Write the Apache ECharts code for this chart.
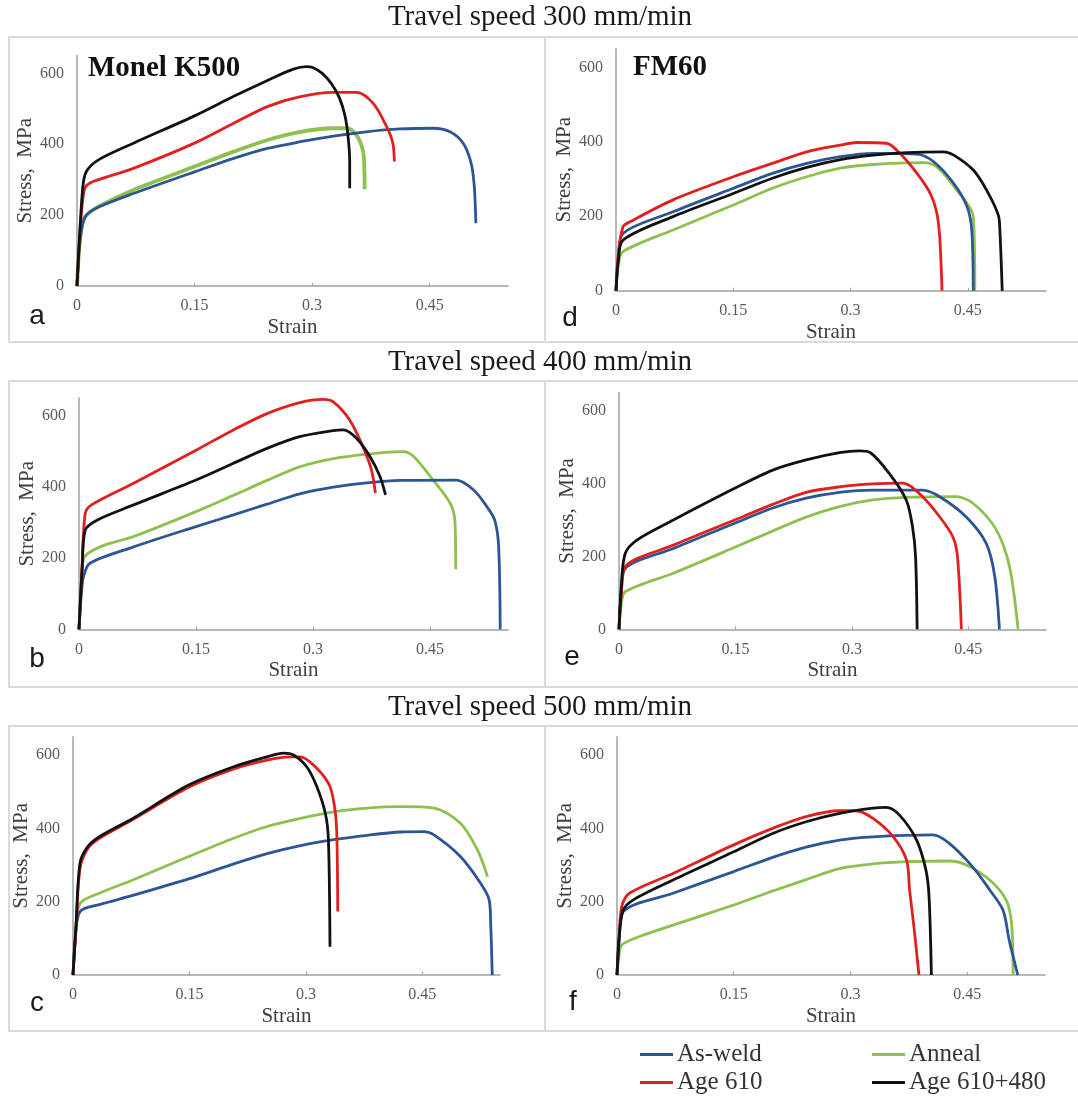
<!DOCTYPE html>
<html>
<head>
<meta charset="utf-8">
<script src="https://cdn.jsdelivr.net/npm/echarts@6/dist/echarts.min.js"></script>
<style>
  html, body { margin: 0; padding: 0; background: #fff; }
  #chart { width: 1078px; height: 1100px; }
</style>
</head>
<body>
<div id="chart"></div>
<script>
// Tick values and labels
const X_TICKS = [0, 0.15, 0.3, 0.45];
const Y_TICKS = [0, 200, 400, 600];
const SERIES_NAMES = ['As-weld', 'Anneal', 'Age 610', 'Age 610+480'];
const SPEED_TITLES = ['Travel speed 300 mm/min', 'Travel speed 400 mm/min', 'Travel speed 500 mm/min'];
const PANEL_LETTERS = ['a', 'b', 'c', 'd', 'e', 'f'];
const ALLOY_NAMES = ['Monel K500', 'FM60'];

// Stress–strain curves [strain, stress MPa]
// (a) Monel K500, 300 mm/min
const a_asWeld = [[0,0],[0.003,110],[0.007,172],[0.012,200],[0.029,224],[0.072,261],[0.15,322],[0.2,360],[0.243,388],[0.285,407],[0.327,423],[0.369,435],[0.412,443],[0.454,445],[0.476,435],[0.493,402],[0.503,346],[0.507,280],[0.509,177]];
const a_anneal = [[0,0],[0.003,110],[0.007,178],[0.012,200],[0.029,226],[0.072,271],[0.15,337],[0.2,379],[0.243,412],[0.285,435],[0.327,445],[0.345,445],[0.358,421],[0.366,365],[0.367,273]];
const a_age610 = [[0,0],[0.004,160],[0.008,255],[0.011,280],[0.02,294],[0.072,332],[0.15,403],[0.2,459],[0.243,506],[0.285,534],[0.327,546],[0.357,546],[0.378,515],[0.395,450],[0.403,403],[0.405,351]];
const a_age610_480 = [[0,0],[0.004,170],[0.008,290],[0.013,327],[0.029,358],[0.072,403],[0.15,480],[0.2,535],[0.243,580],[0.276,612],[0.293,619],[0.3,617],[0.313,600],[0.325,570],[0.335,530],[0.342,480],[0.346,420],[0.348,350],[0.348,276]];

// (b) Monel K500, 400 mm/min
const b_asWeld = [[0,0],[0.003,100],[0.006,150],[0.014,186],[0.07,232],[0.15,289],[0.198,322],[0.241,352],[0.283,381],[0.326,400],[0.369,412],[0.412,419],[0.484,420],[0.506,392],[0.523,345],[0.533,307],[0.538,233],[0.54,0]];
const b_anneal = [[0,0],[0.003,120],[0.006,200],[0.027,232],[0.07,261],[0.15,331],[0.198,377],[0.241,419],[0.283,457],[0.326,480],[0.369,493],[0.416,500],[0.429,486],[0.454,420],[0.476,354],[0.482,303],[0.483,169]];
const b_age610 = [[0,0],[0.004,180],[0.008,326],[0.016,350],[0.07,411],[0.15,504],[0.198,561],[0.241,607],[0.283,638],[0.313,647],[0.326,640],[0.347,589],[0.364,514],[0.375,448],[0.38,383]];
const b_age610_480 = [[0,0],[0.004,170],[0.008,279],[0.023,307],[0.07,350],[0.15,420],[0.198,467],[0.241,509],[0.283,542],[0.326,559],[0.339,561],[0.356,537],[0.373,486],[0.386,429],[0.393,378]];

// (c) Monel K500, 500 mm/min
const c_asWeld = [[0,0],[0.003,100],[0.009,173],[0.034,192],[0.077,217],[0.149,262],[0.207,303],[0.25,331],[0.293,353],[0.336,369],[0.379,381],[0.422,390],[0.452,391],[0.465,382],[0.499,323],[0.525,250],[0.536,205],[0.538,141],[0.54,0]];
const c_anneal = [[0,0],[0.003,110],[0.009,195],[0.034,223],[0.077,259],[0.149,323],[0.207,373],[0.25,405],[0.293,427],[0.336,445],[0.379,455],[0.422,459],[0.465,455],[0.499,414],[0.521,341],[0.534,268]];
const c_age610 = [[0,0],[0.004,130],[0.009,290],[0.019,345],[0.034,373],[0.077,424],[0.149,512],[0.207,562],[0.25,586],[0.28,595],[0.293,595],[0.314,564],[0.331,514],[0.338,441],[0.34,368],[0.341,173]];
const c_age610_480 = [[0,0],[0.004,140],[0.009,305],[0.019,350],[0.034,377],[0.077,427],[0.149,518],[0.207,568],[0.25,595],[0.271,605],[0.284,600],[0.301,568],[0.314,514],[0.325,441],[0.329,368],[0.331,77]];

// (d) FM60, 300 mm/min
const d_asWeld = [[0,0],[0.003,90],[0.009,154],[0.073,212],[0.15,275],[0.2,315],[0.244,342],[0.287,360],[0.329,369],[0.385,367],[0.406,347],[0.432,288],[0.449,226],[0.455,163],[0.457,0]];
const d_anneal = [[0,0],[0.003,70],[0.009,105],[0.073,163],[0.15,230],[0.2,275],[0.244,306],[0.287,329],[0.329,339],[0.393,344],[0.41,333],[0.436,270],[0.457,199],[0.459,0]];
const d_age610 = [[0,0],[0.003,100],[0.009,172],[0.018,185],[0.073,244],[0.15,306],[0.2,342],[0.244,373],[0.287,391],[0.308,398],[0.346,396],[0.363,369],[0.385,315],[0.402,261],[0.41,212],[0.414,145],[0.417,0]];
const d_age610_480 = [[0,0],[0.003,80],[0.009,136],[0.073,199],[0.15,261],[0.2,302],[0.244,331],[0.287,352],[0.329,364],[0.372,371],[0.419,373],[0.432,364],[0.457,324],[0.474,270],[0.489,203],[0.491,163],[0.494,0]];

// (e) FM60, 400 mm/min
const e_asWeld = [[0,0],[0.003,100],[0.008,167],[0.07,222],[0.149,291],[0.198,333],[0.241,360],[0.284,376],[0.327,382],[0.391,382],[0.413,364],[0.447,309],[0.473,236],[0.484,145],[0.49,0]];
const e_anneal = [[0,0],[0.003,70],[0.008,103],[0.07,154],[0.149,225],[0.198,270],[0.241,308],[0.284,337],[0.327,355],[0.37,362],[0.434,364],[0.456,346],[0.486,273],[0.503,172],[0.514,0]];
const e_age610 = [[0,0],[0.003,100],[0.008,172],[0.07,231],[0.149,300],[0.198,343],[0.241,376],[0.284,391],[0.327,399],[0.366,401],[0.391,364],[0.413,309],[0.43,254],[0.436,199],[0.441,0]];
const e_age610_480 = [[0,0],[0.003,120],[0.008,208],[0.023,245],[0.07,300],[0.149,387],[0.198,437],[0.241,465],[0.284,485],[0.31,490],[0.323,486],[0.348,428],[0.37,355],[0.378,282],[0.382,199],[0.384,0]];

// (f) FM60, 500 mm/min
const f_asWeld = [[0,0],[0.003,100],[0.008,173],[0.072,223],[0.15,282],[0.2,321],[0.243,349],[0.286,368],[0.329,377],[0.406,382],[0.427,359],[0.457,295],[0.479,232],[0.496,177],[0.504,95],[0.515,0]];
const f_anneal = [[0,0],[0.003,60],[0.006,82],[0.029,105],[0.072,136],[0.15,191],[0.2,229],[0.243,260],[0.286,290],[0.329,303],[0.372,309],[0.427,311],[0.449,300],[0.479,259],[0.5,205],[0.507,141],[0.509,0]];
const f_age610 = [[0,0],[0.003,110],[0.006,186],[0.016,223],[0.072,277],[0.15,355],[0.2,400],[0.243,432],[0.286,448],[0.307,448],[0.329,427],[0.355,377],[0.372,314],[0.376,232],[0.382,123],[0.388,0]];
const f_age610_480 = [[0,0],[0.003,110],[0.008,177],[0.021,205],[0.072,259],[0.15,336],[0.2,386],[0.243,418],[0.286,441],[0.329,455],[0.346,457],[0.363,436],[0.385,368],[0.397,286],[0.401,214],[0.404,0]];

const PANEL_DATA = [
  [a_asWeld, a_anneal, a_age610, a_age610_480],
  [b_asWeld, b_anneal, b_age610, b_age610_480],
  [c_asWeld, c_anneal, c_age610, c_age610_480],
  [d_asWeld, d_anneal, d_age610, d_age610_480],
  [e_asWeld, e_anneal, e_age610, e_age610_480],
  [f_asWeld, f_anneal, f_age610, f_age610_480]
];

// ---- presentation ----
const COLORS = ['#2b5594', '#8dc04e', '#e0201e', '#111111'];
const SERIF = '"Liberation Serif", "Times New Roman", serif';
const SANS = '"Liberation Sans", Arial, sans-serif';

// plot areas: left column a,b,c then right column d,e,f
const GRIDS = [
  { left: 77,  top: 55.6,  width: 431, height: 230.4 },
  { left: 79,  top: 398.3, width: 429, height: 231 },
  { left: 73,  top: 736.7, width: 427, height: 238.3 },
  { left: 616, top: 48.7,  width: 430, height: 242 },
  { left: 619, top: 392.5, width: 427, height: 236.8 },
  { left: 617, top: 736.7, width: 428, height: 238.3 }
];
const LETTER_POS = [[37, 316], [37, 659], [37, 1003], [570, 318], [572, 657], [573, 1002]];
const ROW_BOXES = [[37, 342], [381, 687], [726, 1031]];
const TITLE_Y = [17, 362, 707];

const axisLineStyle = { color: '#a0a0a0', width: 1.5 };

const xAxes = GRIDS.map((g, i) => ({
  type: 'value', gridIndex: i, min: 0, max: 0.55, interval: 0.15,
  name: 'Strain', nameLocation: 'middle', nameGap: 31,
  nameTextStyle: { fontFamily: SERIF, fontSize: 21, color: '#404040' },
  axisLine: { show: true, lineStyle: axisLineStyle },
  axisTick: { show: true, inside: true, length: 3, customValues: X_TICKS.slice(1), lineStyle: { color: '#a0a0a0' } },
  axisLabel: { customValues: X_TICKS, margin: 12, fontFamily: SERIF, fontSize: 16, color: '#595959',
               formatter: v => String(v) },
  splitLine: { show: false }
}));

const yAxes = GRIDS.map((g, i) => ({
  type: 'value', gridIndex: i, min: 0, max: 650, interval: 200,
  name: 'Stress,  MPa', nameLocation: 'middle', nameGap: 41,
  nameTextStyle: { fontFamily: SERIF, fontSize: 21, color: '#404040' },
  axisLine: { show: true, lineStyle: axisLineStyle },
  axisTick: { show: false },
  axisLabel: { customValues: Y_TICKS, margin: 13, fontFamily: SERIF, fontSize: 16, color: '#595959' },
  splitLine: { show: false }
}));

const series = [];
PANEL_DATA.forEach((curves, p) => {
  curves.forEach((pts, k) => {
    series.push({
      type: 'line', name: SERIES_NAMES[k], xAxisIndex: p, yAxisIndex: p,
      data: pts, showSymbol: false, symbol: 'none', smooth: 0.3,
      lineStyle: { color: COLORS[k], width: (p === 0 && k === 1) ? 3.8 : 2.8 },
      itemStyle: { color: COLORS[k] },
      z: k === 1 ? 2 : 3
    });
  });
});

const graphics = [];
ROW_BOXES.forEach(([y1, y2]) => {
  graphics.push({ type: 'rect', silent: true, shape: { x: 9, y: y1, width: 1080, height: y2 - y1 },
                  style: { fill: 'none', stroke: '#dadada', lineWidth: 2 } });
  graphics.push({ type: 'line', silent: true, shape: { x1: 545, y1: y1, x2: 545, y2: y2 },
                  style: { stroke: '#dadada', lineWidth: 2 } });
});
SPEED_TITLES.forEach((t, i) => {
  graphics.push({ type: 'text', silent: true, style: { x: 540, y: TITLE_Y[i], text: t, fill: '#1a1a1a',
                  font: '29px ' + SERIF, textAlign: 'center', textVerticalAlign: 'middle' } });
});
PANEL_LETTERS.forEach((l, i) => {
  graphics.push({ type: 'text', silent: true, style: { x: LETTER_POS[i][0], y: LETTER_POS[i][1], text: l, fill: '#1a1a1a',
                  font: '28px ' + SANS, textAlign: 'center', textVerticalAlign: 'middle' } });
});
graphics.push({ type: 'text', silent: true, style: { x: 88, y: 69, text: ALLOY_NAMES[0], fill: '#111',
                font: 'bold 29px ' + SERIF, textAlign: 'left', textVerticalAlign: 'middle' } });
graphics.push({ type: 'text', silent: true, style: { x: 633, y: 68, text: ALLOY_NAMES[1], fill: '#111',
                font: 'bold 29px ' + SERIF, textAlign: 'left', textVerticalAlign: 'middle' } });

const LEGEND_POS = [[640, 1042], [872, 1042], [640, 1070], [872, 1070]];
const legends = SERIES_NAMES.map((n, k) => ({
  data: [n], left: LEGEND_POS[k][0], top: LEGEND_POS[k][1], padding: 0,
  icon: 'rect', itemWidth: 33, itemHeight: 3, itemGap: 0, selectedMode: false,
  textStyle: { fontFamily: SERIF, fontSize: 25, color: '#333', padding: [0, 0, 0, -1] }
}));

const chart = echarts.init(document.getElementById('chart'), null, { renderer: 'canvas' });
chart.setOption({
  animation: false,
  backgroundColor: '#fff',
  grid: GRIDS,
  xAxis: xAxes,
  yAxis: yAxes,
  legend: legends,
  series: series,
  graphic: graphics
});
</script>
</body>
</html>
